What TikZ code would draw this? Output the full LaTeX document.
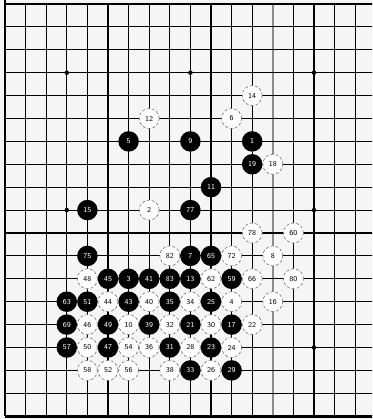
\documentclass[tikz,border=0pt]{standalone}
\begin{document}
\begin{tikzpicture}[x=20.6pt, y=-22.9pt,
        bstone/.style={circle, fill=black, text=white, minimum size=20.5pt, inner sep=0pt, font=\fontsize{7.5}{7.5}\selectfont\sffamily},
        wstone/.style={circle, fill=white, draw=black!55, densely dashed, line width=0.6pt, text=black, minimum size=20pt, inner sep=0pt, font=\fontsize{7.5}{7.5}\selectfont\sffamily},
        star/.style={circle, fill=black, inner sep=0pt, minimum size=4.5pt}]

        % Brett
        \clip (-5pt,4pt) rectangle (367pt,-415pt);
        \fill[black!4] (-5pt,4pt) rectangle (367pt,-415pt);
        \foreach \i in {1,...,17} \draw[line width=1.1pt] (\i,0) -- (\i,18);
        \draw[black!45, line width=1.6pt] (13,0) -- (13,18);
        \foreach \j in {1,...,17} \draw[line width=1.1pt] (0,\j) -- ++(370pt,0);
        \draw[line width=1.4pt] (0,0) -- ++(370pt,0);
        \draw[line width=2.6pt] (0,18) -- ++(370pt,0);
        \draw[line width=2.6pt] (0,-1) -- (0,18);

        % Sternpunkte
        \foreach \i in {3,9,15} \foreach \j in {3,9,15} \node[star] at (\i,\j) {};

        % Schwarz
        \node[bstone] (b1) at (12,6) {1};
        \node[bstone] (b3) at (6,12) {3};
        \node[bstone] (b5) at (6,6) {5};
        \node[bstone] (b7) at (9,11) {7};
        \node[bstone] (b9) at (9,6) {9};
        \node[bstone] (b11) at (10,8) {11};
        \node[bstone] (b13) at (9,12) {13};
        \node[bstone] (b15) at (4,9) {15};
        \node[bstone] (b17) at (11,14) {17};
        \node[bstone] (b19) at (12,7) {19};
        \node[bstone] (b21) at (9,14) {21};
        \node[bstone] (b23) at (10,15) {23};
        \node[bstone] (b25) at (10,13) {25};
        \node[bstone] (b29) at (11,16) {29};
        \node[bstone] (b31) at (8,15) {31};
        \node[bstone] (b33) at (9,16) {33};
        \node[bstone] (b35) at (8,13) {35};
        \node[bstone] (b39) at (7,14) {39};
        \node[bstone] (b41) at (7,12) {41};
        \node[bstone] (b43) at (6,13) {43};
        \node[bstone] (b45) at (5,12) {45};
        \node[bstone] (b47) at (5,15) {47};
        \node[bstone] (b49) at (5,14) {49};
        \node[bstone] (b51) at (4,13) {51};
        \node[bstone] (b57) at (3,15) {57};
        \node[bstone] (b59) at (11,12) {59};
        \node[bstone] (b63) at (3,13) {63};
        \node[bstone] (b65) at (10,11) {65};
        \node[bstone] (b69) at (3,14) {69};
        \node[bstone] (b75) at (4,11) {75};
        \node[bstone] (b77) at (9,9) {77};
        \node[bstone] (b83) at (8,12) {83};

        % Weiss
        \node[wstone] (w2) at (7,9) {2};
        \node[wstone] (w4) at (11,13) {4};
        \node[wstone] (w6) at (11,5) {6};
        \node[wstone] (w8) at (13,11) {8};
        \node[wstone] (w10) at (6,14) {10};
        \node[wstone] (w12) at (7,5) {12};
        \node[wstone] (w14) at (12,4) {14};
        \node[wstone] (w16) at (13,13) {16};
        \node[wstone] (w18) at (13,7) {18};
        \node[wstone] (w22) at (12,14) {22};
        \node[wstone] (w24) at (11,15) {24};
        \node[wstone] (w26) at (10,16) {26};
        \node[wstone] (w28) at (9,15) {28};
        \node[wstone] (w30) at (10,14) {30};
        \node[wstone] (w32) at (8,14) {32};
        \node[wstone] (w34) at (9,13) {34};
        \node[wstone] (w36) at (7,15) {36};
        \node[wstone] (w38) at (8,16) {38};
        \node[wstone] (w40) at (7,13) {40};
        \node[wstone] (w44) at (5,13) {44};
        \node[wstone] (w46) at (4,14) {46};
        \node[wstone] (w48) at (4,12) {48};
        \node[wstone] (w50) at (4,15) {50};
        \node[wstone] (w52) at (5,16) {52};
        \node[wstone] (w54) at (6,15) {54};
        \node[wstone] (w56) at (6,16) {56};
        \node[wstone] (w58) at (4,16) {58};
        \node[wstone] (w60) at (14,10) {60};
        \node[wstone] (w62) at (10,12) {62};
        \node[wstone] (w66) at (12,12) {66};
        \node[wstone] (w72) at (11,11) {72};
        \node[wstone] (w78) at (12,10) {78};
        \node[wstone] (w80) at (14,12) {80};
        \node[wstone] (w82) at (8,11) {82};

    \end{tikzpicture}
\end{document}
